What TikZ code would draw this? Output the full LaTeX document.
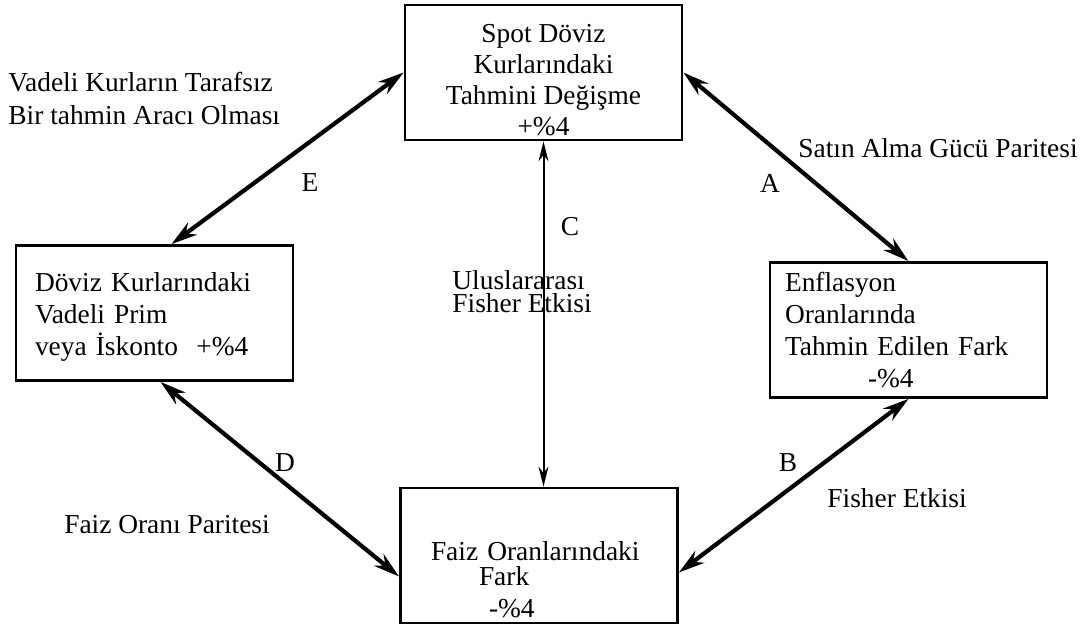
\documentclass[tikz,border=0pt]{standalone}
\usepackage{fontspec}
\setmainfont{Liberation Serif}
\usepackage{tikz}
\usetikzlibrary{arrows.meta}
\usetikzlibrary{calc}

\begin{document}
\begin{tikzpicture}[x=0.5pt,y=-0.5pt,
  kutu/.style={draw,line width=1.4pt,minimum width=138.5pt,minimum height=67.5pt,inner sep=0pt,font=\fontsize{13.7}{16}\selectfont},
  yazi/.style={inner sep=0pt,font=\fontsize{13.7}{16.5}\selectfont},
  ok/.style={line width=2.1pt,{Stealth[length=13pt,width=7.5pt]}-{Stealth[length=13pt,width=7.5pt]}},
  ince/.style={line width=1pt,{Stealth[length=10pt,width=5pt]}-{Stealth[length=10pt,width=5pt]}}]
\useasboundingbox (0,0) rectangle (1087,627);

 \node[kutu,align=center,font=\fontsize{13.7}{15.5}\selectfont] (spot) at (543.5,72.5) {\mbox{}\\[1pt]Spot Döviz\\Kurlarındaki\\Tahmini Değişme\\+\%4};
 \node[kutu,align=left,text width=119.5pt] (vadeli) at (154.5,313) {\mbox{}\\[-2.5pt]Döviz Kurlarındaki\\Vadeli Prim\\veya İskonto\ \ +\%4};
 \node[kutu,align=left,text width=123.5pt] (enfl) at (908.5,330) {Enflasyon\\Oranlarında\\Tahmin Edilen Fark\\\hspace*{41.5pt}-\%4};
 \node[kutu,align=left,text width=108pt] (faiz) at (539,555.5) {\mbox{}\\[18pt]Faiz Oranlarındaki\\[-3.5pt]\hspace*{24pt}Fark\\\hspace*{29pt}-\%4};

 \node[yazi,align=left,anchor=west] (tarafsiz) at (8,98) {Vadeli Kurların Tarafsız\\Bir tahmin Aracı Olması};
 \node[yazi] (satin) at (938,148) {Satın Alma Gücü Paritesi};
 \node[yazi] (harfA) at (770,183) {A};
 \node[yazi] (harfE) at (310,183) {E};
 \node[yazi] (harfC) at (570,227) {C};
 \node[yazi,align=left,anchor=west,font=\fontsize{13.7}{11.5}\selectfont] (uluslar) at (452,292) {Uluslararası\\Fisher Etkisi};
 \node[yazi] (harfD) at (285,463) {D};
 \node[yazi] (faizparite) at (167,525) {Faiz Oranı Paritesi};
 \node[yazi] (harfB) at (788,463) {B};
 \node[yazi,anchor=west] (fisher) at (827,498) {Fisher Etkisi};

 \draw[ok] (spot.west) -- ($(vadeli.north)+(17,0)$);
 \draw[ok] (spot.east) -- (enfl.north);
 \draw[ince] (spot.south) -- (spot.south |- faiz.north);
 \draw[ok] ($(vadeli.south)+(6,0)$) -- ($(faiz.west)+(0,21)$);
 \draw[ok] ($(faiz.east)+(0,17)$) -- (enfl.south);
\end{tikzpicture}
\end{document}
